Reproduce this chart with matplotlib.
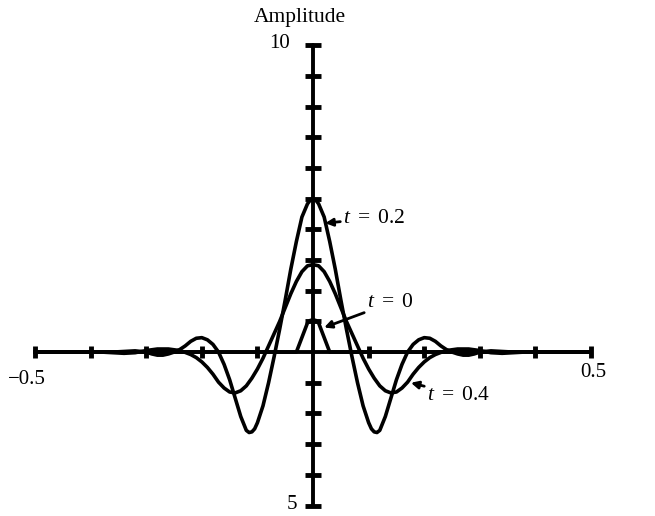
import numpy as np
import matplotlib
matplotlib.use('Agg')
import matplotlib.pyplot as plt

plt.rcParams['font.family'] = ['Liberation Serif', 'DejaVu Serif']
plt.rcParams['mathtext.fontset'] = 'custom'
plt.rcParams['mathtext.rm'] = 'Liberation Serif'
plt.rcParams['mathtext.it'] = 'Liberation Serif:italic'

# right half of each (symmetric) curve
x_t0 = [0.0, 0.005, 0.01, 0.03, 0.5]
y_t0 = [1.05, 1.03, 0.95, 0.0, 0.0]

x_t02 = [0.0, 0.005, 0.01, 0.02, 0.03, 0.04, 0.05, 0.06, 0.07, 0.08, 0.09,
         0.10, 0.105, 0.11, 0.115, 0.12, 0.13, 0.14, 0.15, 0.16, 0.17, 0.18,
         0.19, 0.20, 0.21, 0.22, 0.23, 0.24, 0.25, 0.26, 0.27, 0.28, 0.29,
         0.30, 0.32, 0.34, 0.36, 0.5]
y_t02 = [5.0, 4.95, 4.83, 4.4, 3.6, 2.7, 1.7, 0.75, -0.15, -1.0, -1.75,
         -2.3, -2.5, -2.6, -2.62, -2.55, -2.1, -1.5, -0.9, -0.4, 0.0, 0.25,
         0.4, 0.47, 0.45, 0.35, 0.2, 0.08, 0.0, -0.06, -0.1, -0.1, -0.06,
         0.0, 0.04, 0.02, 0.0, 0.0]

x_t04 = [0.0, 0.01, 0.02, 0.03, 0.04, 0.05, 0.06, 0.07, 0.08, 0.09, 0.10,
         0.11, 0.12, 0.13, 0.14, 0.15, 0.16, 0.17, 0.18, 0.19, 0.20, 0.21,
         0.22, 0.23, 0.24, 0.26, 0.28, 0.30, 0.32, 0.34, 0.36, 0.38, 0.5]
y_t04 = [2.85, 2.81, 2.62, 2.3, 1.9, 1.45, 1.0, 0.6, 0.2, -0.2, -0.55,
         -0.85, -1.1, -1.26, -1.33, -1.3, -1.17, -0.98, -0.72, -0.5, -0.32, -0.18,
         -0.08, -0.01, 0.05, 0.1, 0.1, 0.05, -0.02, -0.04, -0.02, 0.0, 0.0]

x_ticks = [-0.5, -0.4, -0.3, -0.2, -0.1, 0.1, 0.2, 0.3, 0.4, 0.5]
y_ticks = [-5, -4, -3, -2, -1, 1, 2, 3, 4, 5, 6, 7, 8, 9, 10]


def mirror(xs, ys):
    xs = np.asarray(xs)
    ys = np.asarray(ys)
    return (np.concatenate([-xs[::-1], xs[1:]]),
            np.concatenate([ys[::-1], ys[1:]]))


fig = plt.figure(figsize=(6.55, 5.16), dpi=100)
ax = fig.add_axes([0, 0, 1, 1])
ax.set_xlim(-0.563, 0.615)
ax.set_ylim(-5.34, 11.47)
ax.axis('off')

# axes
ax.plot([-0.5, 0.5], [0, 0], color='black', lw=2.8, solid_capstyle='round')
ax.plot([0, 0], [-5, 10], color='black', lw=2.8, solid_capstyle='round')
ax.plot(x_ticks, [0] * len(x_ticks), ls='none', marker='|', ms=9,
        mew=3.5, color='black')
ax.plot([0] * len(y_ticks), y_ticks, ls='none', marker='_', ms=11,
        mew=3.5, color='black')

# curves
for xs, ys in [(x_t0, y_t0), (x_t02, y_t02), (x_t04, y_t04)]:
    xx, yy = mirror(xs, ys)
    ax.plot(xx, yy, color='black', lw=2.6, solid_joinstyle='round')

# labels
ax.text(-0.023, 10.9, 'Amplitude', fontsize=15.5, ha='center', va='center')
ax.text(-0.061, 10.05, '10', fontsize=15, ha='center', va='center')
ax.text(-0.038, -4.95, '5', fontsize=15, ha='center', va='center')
ax.text(-0.514, -0.9, '\u22120.5', fontsize=15, ha='center', va='center')
ax.text(0.504, -0.65, '0.5', fontsize=15, ha='center', va='center')

arrow = dict(arrowstyle='-|>', color='black', lw=2.0, mutation_scale=11,
             shrinkA=0, shrinkB=0)
ax.annotate('$t\\ =\\ 0.2$', xy=(0.022, 4.2), xytext=(0.054, 4.36),
            fontsize=15.5, va='center', ha='left', arrowprops=arrow)
ax.annotate('$t\\ =\\ 0$', xy=(0.02, 0.8), xytext=(0.097, 1.6),
            fontsize=15.5, va='center', ha='left', arrowprops=arrow)
ax.annotate('$t\\ =\\ 0.4$', xy=(0.176, -1.0), xytext=(0.205, -1.4),
            fontsize=15.5, va='center', ha='left', arrowprops=arrow)

fig.savefig('out.png', dpi=100)
